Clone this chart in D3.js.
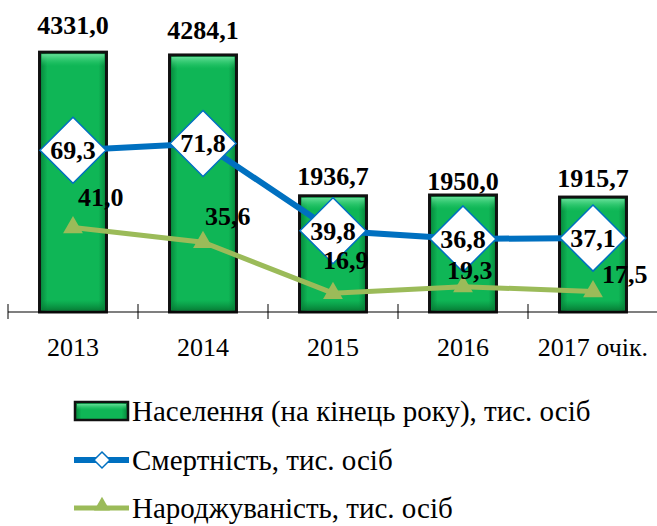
<!DOCTYPE html>
<html>
<head>
<meta charset="utf-8">
<script src="https://cdn.jsdelivr.net/npm/d3@7"></script>
<style>
  body { margin: 0; background: #fff; }
</style>
</head>
<body>
<script>
// data
const years = ["2013", "2014", "2015", "2016", "2017 очік."];
const population = [4331.0, 4284.1, 1936.7, 1950.0, 1915.7];
const mortality = [69.3, 71.8, 39.8, 36.8, 37.1];
const births = [41.0, 35.6, 16.9, 19.3, 17.5];
const legendNames = [
  "Населення (на кінець року), тис. осіб",
  "Смертність, тис. осіб",
  "Народжуваність, тис. осіб"
];

// label nudges for the birth labels (as placed in the original)
const birthLabelDx = [5, 2, -10, -16, 9];
const birthLabelDy = [-21, -17, -24, -8, -9];
const popLabelDy = [-18, -16, -11, -5, -10];

const fmt = v => v.toFixed(1).replace(".", ",");

const W = 657, H = 526;
const plotTop = 12, plotBottom = 312, plotLeft = 8, plotRight = 658;
const FONT = "Liberation Serif";

const svg = d3.select("body").append("svg")
  .attr("width", W)
  .attr("height", H)
  .style("display", "block")
  .style("font-family", FONT);

const defs = svg.append("defs");
const gH = defs.append("linearGradient").attr("id", "barSide")
  .attr("x1", 0).attr("x2", 1).attr("y1", 0).attr("y2", 0);
gH.append("stop").attr("offset", "0%").attr("stop-color", "#06843a");
gH.append("stop").attr("offset", "12%").attr("stop-color", "#0fb656");
gH.append("stop").attr("offset", "88%").attr("stop-color", "#0fb656");
gH.append("stop").attr("offset", "100%").attr("stop-color", "#06843a");

const gTop = defs.append("linearGradient").attr("id", "barTop")
  .attr("x1", 0).attr("x2", 0).attr("y1", 0).attr("y2", 1);
gTop.append("stop").attr("offset", "0%").attr("stop-color", "#6fe39f").attr("stop-opacity", 0.9);
gTop.append("stop").attr("offset", "100%").attr("stop-color", "#2fd070").attr("stop-opacity", 0);

const gBot = defs.append("linearGradient").attr("id", "barBot")
  .attr("x1", 0).attr("x2", 0).attr("y1", 0).attr("y2", 1);
gBot.append("stop").attr("offset", "0%").attr("stop-color", "#078c3d").attr("stop-opacity", 0);
gBot.append("stop").attr("offset", "100%").attr("stop-color", "#067a34").attr("stop-opacity", 0.9);

// scales
const x = d3.scaleBand()
  .domain(years)
  .range([plotLeft, plotRight])
  .paddingInner(0.485)
  .paddingOuter(0.2425);

const yPop = d3.scaleLinear().domain([0, 5000]).range([plotBottom, plotTop]);
const yRate = d3.scaleLinear().domain([10, 120]).range([plotBottom, plotTop]);

const cx = d => x(d) + x.bandwidth() / 2;

// bars
const bars = svg.append("g").selectAll("g")
  .data(years.map((y, i) => ({ year: y, v: population[i], i })))
  .join("g");

bars.append("rect")
  .attr("x", d => x(d.year))
  .attr("y", d => yPop(d.v))
  .attr("width", x.bandwidth())
  .attr("height", d => yPop(0) - yPop(d.v))
  .attr("fill", "url(#barSide)")
  .attr("stroke", "#111")
  .attr("stroke-width", 3);

bars.append("rect")
  .attr("x", d => x(d.year) + 2)
  .attr("y", d => yPop(d.v) + 2)
  .attr("width", x.bandwidth() - 4)
  .attr("height", 12)
  .attr("fill", "url(#barTop)");

bars.append("rect")
  .attr("x", d => x(d.year) + 2)
  .attr("y", d => yPop(0) - 12)
  .attr("width", x.bandwidth() - 4)
  .attr("height", 10)
  .attr("fill", "url(#barBot)");

bars.append("text")
  .attr("x", d => cx(d.year))
  .attr("y", d => yPop(d.v) + popLabelDy[d.i])
  .attr("text-anchor", "middle")
  .style("font-family", FONT)
  .attr("font-size", 26)
  .attr("font-weight", "bold")
  .text(d => fmt(d.v));

// category axis: line, ticks at band edges, labels
const axis = svg.append("g");
axis.append("line")
  .attr("x1", plotLeft).attr("x2", W)
  .attr("y1", plotBottom).attr("y2", plotBottom)
  .attr("stroke", "#000").attr("stroke-width", 1.2);

axis.selectAll(".tk")
  .data(years)
  .join("line")
  .attr("x1", d => x(d) - x.step() * x.paddingInner() / 2)
  .attr("x2", d => x(d) - x.step() * x.paddingInner() / 2)
  .attr("y1", plotBottom - 8).attr("y2", plotBottom + 7)
  .attr("stroke", "#000").attr("stroke-width", 1);

axis.selectAll("text")
  .data(years)
  .join("text")
  .attr("x", d => cx(d))
  .attr("y", plotBottom + 44)
  .attr("text-anchor", "middle")
  .style("font-family", FONT)
  .attr("font-size", 26)
  .text(d => d);

// lines
const rateLine = d3.line()
  .x((d, i) => cx(years[i]))
  .y(d => yRate(d));

svg.append("path")
  .datum(births)
  .attr("d", rateLine)
  .attr("fill", "none")
  .attr("stroke", "#9BBB59")
  .attr("stroke-width", 5);

svg.append("path")
  .datum(mortality)
  .attr("d", rateLine)
  .attr("fill", "none")
  .attr("stroke", "#0070C0")
  .attr("stroke-width", 6);

// mortality diamonds with labels
const dia = svg.append("g").selectAll("g")
  .data(mortality)
  .join("g")
  .attr("transform", (d, i) => `translate(${cx(years[i])},${yRate(d)})`);

dia.append("path")
  .attr("d", "M0,-33L33,0L0,33L-33,0Z")
  .attr("fill", "#fff")
  .attr("stroke", "#0070C0")
  .attr("stroke-width", 1.5);

dia.append("text")
  .attr("y", 9)
  .attr("text-anchor", "middle")
  .style("font-family", FONT)
  .attr("font-size", 26)
  .attr("font-weight", "bold")
  .text(d => fmt(d));

// birth triangles
const tri = d3.symbol().type(d3.symbolTriangle).size(170);
svg.append("g").selectAll("path")
  .data(births)
  .join("path")
  .attr("transform", (d, i) => `translate(${cx(years[i])},${yRate(d)})`)
  .attr("d", tri)
  .attr("fill", "#9BBB59");

svg.append("g").selectAll("text")
  .data(births)
  .join("text")
  .attr("x", (d, i) => cx(years[i]) + birthLabelDx[i])
  .attr("y", (d, i) => yRate(d) + birthLabelDy[i])
  .style("font-family", FONT)
  .attr("font-size", 26)
  .attr("font-weight", "bold")
  .text(d => fmt(d));

// legend
const legend = svg.append("g").attr("transform", "translate(74,0)");
const rowY = [411, 460, 508];

legend.append("rect")
  .attr("x", 1).attr("y", rowY[0] - 9)
  .attr("width", 53).attr("height", 18)
  .attr("fill", "url(#barSide)")
  .attr("stroke", "#111").attr("stroke-width", 2.5);
legend.append("rect")
  .attr("x", 3).attr("y", rowY[0] - 7)
  .attr("width", 49).attr("height", 6)
  .attr("fill", "url(#barTop)");

legend.append("line")
  .attr("x1", 0).attr("x2", 55)
  .attr("y1", rowY[1]).attr("y2", rowY[1])
  .attr("stroke", "#0070C0").attr("stroke-width", 6);
legend.append("path")
  .attr("transform", `translate(28,${rowY[1]})`)
  .attr("d", "M0,-8L8,0L0,8L-8,0Z")
  .attr("fill", "#fff")
  .attr("stroke", "#0070C0").attr("stroke-width", 1.5);

legend.append("line")
  .attr("x1", 0).attr("x2", 55)
  .attr("y1", rowY[2]).attr("y2", rowY[2])
  .attr("stroke", "#9BBB59").attr("stroke-width", 5);
legend.append("path")
  .attr("transform", `translate(28,${rowY[2] - 2})`)
  .attr("d", d3.symbol().type(d3.symbolTriangle).size(110))
  .attr("fill", "#9BBB59");

legend.selectAll(".lt")
  .data(legendNames)
  .join("text")
  .attr("x", 58)
  .attr("y", (d, i) => rowY[i] + 10)
  .style("font-family", FONT)
  .attr("font-size", 29)
  .text(d => d);
</script>
</body>
</html>
